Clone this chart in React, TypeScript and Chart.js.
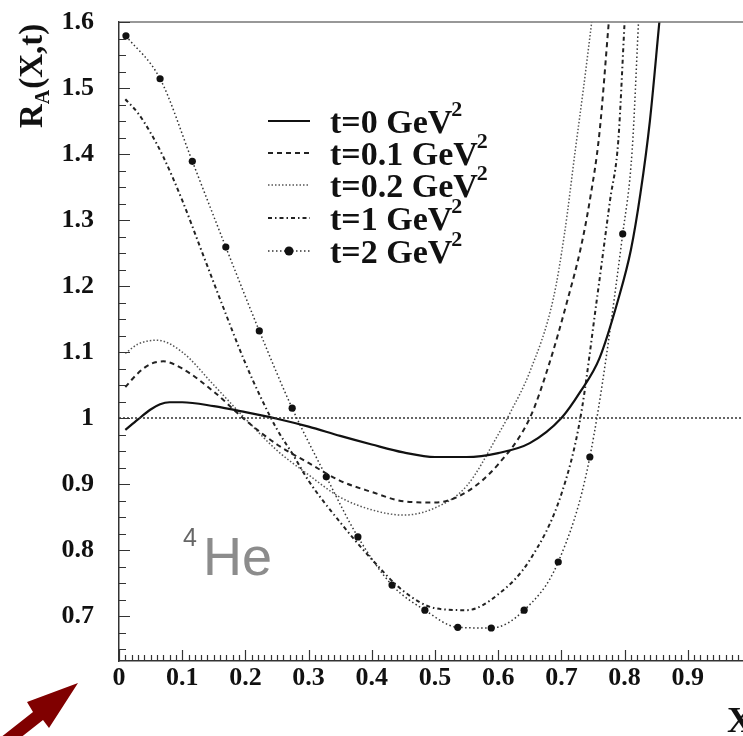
import React, { useEffect, useRef } from 'react';
import { Chart, registerables } from 'chart.js';

Chart.register(...registerables);

// ---- data ----
const X_T0 = [0.01, 0.03, 0.05, 0.065, 0.08, 0.1, 0.15, 0.2, 0.25, 0.3, 0.35, 0.4, 0.45, 0.5, 0.55, 0.6, 0.65, 0.7, 0.73, 0.76, 0.79, 0.81, 0.825, 0.84, 0.855];
const Y_T0 = [0.982, 0.998, 1.013, 1.021, 1.024, 1.024, 1.018, 1.009, 0.999, 0.987, 0.973, 0.960, 0.948, 0.941, 0.941, 0.947, 0.962, 1.0, 1.04, 1.09, 1.18, 1.255, 1.34, 1.45, 1.6];

const X_T01 = [0.01, 0.03, 0.05, 0.07, 0.1, 0.15, 0.2, 0.25, 0.3, 0.35, 0.4, 0.45, 0.5, 0.55, 0.6, 0.65, 0.68, 0.71, 0.73, 0.745, 0.76, 0.775];
const Y_T01 = [1.047, 1.068, 1.082, 1.086, 1.075, 1.04, 0.997, 0.96, 0.932, 0.905, 0.888, 0.874, 0.872, 0.888, 0.93, 1.0, 1.08, 1.18, 1.255, 1.33, 1.43, 1.6];

const X_T02 = [0.01, 0.03, 0.06, 0.1, 0.15, 0.2, 0.25, 0.3, 0.35, 0.4, 0.45, 0.5, 0.55, 0.6, 0.62, 0.65, 0.687, 0.705, 0.722, 0.735, 0.748];
const Y_T02 = [1.098, 1.112, 1.118, 1.1, 1.05, 0.999, 0.951, 0.914, 0.88, 0.861, 0.853, 0.864, 0.897, 0.975, 1.01, 1.07, 1.18, 1.28, 1.406, 1.5, 1.6];

const X_T1 = [0.01, 0.03, 0.05, 0.07, 0.1, 0.13, 0.16, 0.2, 0.225, 0.25, 0.275, 0.3, 0.35, 0.4, 0.45, 0.5, 0.55, 0.6, 0.65, 0.7, 0.73, 0.756, 0.777, 0.79, 0.8];
const Y_T1 = [1.483, 1.462, 1.432, 1.396, 1.33, 1.255, 1.18, 1.083, 1.03, 0.983, 0.945, 0.905, 0.842, 0.786, 0.738, 0.712, 0.709, 0.733, 0.785, 0.885, 1.0, 1.179, 1.33, 1.42, 1.6];

// t=2: the first 16 points carry the round markers
const X_T2 = [0.011, 0.065, 0.116, 0.169, 0.222, 0.274, 0.328, 0.378, 0.432, 0.484, 0.536, 0.589, 0.641, 0.695, 0.745, 0.797, 0.812, 0.822];
const Y_T2 = [1.579, 1.514, 1.389, 1.259, 1.132, 1.015, 0.911, 0.820, 0.747, 0.709, 0.683, 0.682, 0.709, 0.782, 0.941, 1.279, 1.406, 1.6];
const N_MARKERS_T2 = 16;

const X_UNITY = [0, 1];
const Y_UNITY = [1, 1];

const X_TICKS = [0, 0.1, 0.2, 0.3, 0.4, 0.5, 0.6, 0.7, 0.8, 0.9];
const Y_TICKS = [0.7, 0.8, 0.9, 1.0, 1.1, 1.2, 1.3, 1.4, 1.5, 1.6];
const LEGEND_LABELS = ['t=0 GeV', 't=0.1 GeV', 't=0.2 GeV', 't=1 GeV', 't=2 GeV'];

const SERIF = "'Liberation Serif', 'Times New Roman', serif";
const SANS = "'Liberation Sans', Arial, sans-serif";

const STYLES = [
  { color: '#111', width: 2.2, dash: [] as number[] },
  { color: '#222', width: 2, dash: [5, 4] },
  { color: '#555', width: 1.5, dash: [1.5, 2] },
  { color: '#222', width: 2, dash: [4, 3, 1.5, 3] },
  { color: '#333', width: 1.5, dash: [1.5, 2.5] },
];

function pts(xs: number[], ys: number[]) {
  return xs.map((x, i) => ({ x, y: ys[i] }));
}

function fmt(v: any) {
  return String(+Number(v).toFixed(2));
}

const decor = {
  id: 'decor',
  afterDraw(chart: any) {
    const { ctx, chartArea, scales } = chart;
    const { left, right, top, bottom } = chartArea;
    const x = scales.x;
    const y = scales.y;
    ctx.save();

    // frame top/right
    ctx.setLineDash([]);
    ctx.strokeStyle = '#777';
    ctx.lineWidth = 1.5;
    ctx.beginPath();
    ctx.moveTo(left, top);
    ctx.lineTo(right, top);
    ctx.lineTo(right, bottom);
    ctx.stroke();

    // inward ticks
    ctx.strokeStyle = '#333';
    ctx.lineWidth = 1.2;
    ctx.beginPath();
    for (let i = 0; i <= 100; i++) {
      const v = i / 100;
      const px = Math.round(x.getPixelForValue(v)) + 0.5;
      const len = i % 10 === 0 ? 11 : 6;
      ctx.moveTo(px, bottom);
      ctx.lineTo(px, bottom - len);
    }
    for (let k = 26; k <= 64; k++) {
      const v = k * 0.025;
      const py = Math.round(y.getPixelForValue(v)) + 0.5;
      const len = k % 4 === 0 ? 11 : 7;
      ctx.moveTo(left, py);
      ctx.lineTo(left + len, py);
    }
    ctx.stroke();

    // y-axis title R_A(X,t)
    ctx.save();
    ctx.translate(42, 128);
    ctx.rotate(-Math.PI / 2);
    ctx.fillStyle = '#111';
    ctx.textBaseline = 'alphabetic';
    ctx.textAlign = 'left';
    ctx.font = `bold 33px ${SERIF}`;
    ctx.fillText('R', 0, 0);
    const wR = ctx.measureText('R').width;
    ctx.font = `bold 20px ${SERIF}`;
    ctx.fillText('A', wR, 7);
    const wA = ctx.measureText('A').width;
    ctx.font = `bold 33px ${SERIF}`;
    ctx.fillText('(X,t)', wR + wA + 1, 0);
    ctx.restore();

    // x-axis title
    ctx.fillStyle = '#111';
    ctx.font = `bold 36px ${SERIF}`;
    ctx.textAlign = 'left';
    ctx.textBaseline = 'alphabetic';
    ctx.fillText('X', 727, 732);

    // legend
    const baselines = [133, 165, 197, 230, 263];
    LEGEND_LABELS.forEach((lab, i) => {
      const st = STYLES[i];
      const ly = baselines[i] - 12;
      ctx.strokeStyle = st.color;
      ctx.lineWidth = st.width;
      ctx.setLineDash(st.dash);
      ctx.beginPath();
      ctx.moveTo(268, ly);
      ctx.lineTo(310, ly);
      ctx.stroke();
      ctx.setLineDash([]);
      if (i === 4) {
        ctx.fillStyle = '#111';
        ctx.beginPath();
        ctx.arc(289, ly, 4.5, 0, Math.PI * 2);
        ctx.fill();
      }
      ctx.fillStyle = '#111';
      ctx.font = `bold 34px ${SERIF}`;
      ctx.fillText(lab, 330, baselines[i]);
      const w = ctx.measureText(lab).width;
      ctx.font = `bold 22px ${SERIF}`;
      ctx.fillText('2', 330 + w - 1, baselines[i] - 17);
    });

    // 4He
    ctx.fillStyle = '#666';
    ctx.font = `25px ${SANS}`;
    ctx.fillText('4', 183, 546);
    ctx.fillStyle = '#8c8c8c';
    ctx.font = `54px ${SANS}`;
    ctx.fillText('He', 203, 575);

    // arrow
    ctx.fillStyle = '#800000';
    ctx.beginPath();
    ctx.moveTo(78, 683);
    ctx.lineTo(27, 702);
    ctx.lineTo(33, 712);
    ctx.lineTo(-14, 749);
    ctx.lineTo(-4, 757);
    ctx.lineTo(43, 720);
    ctx.lineTo(49, 728);
    ctx.closePath();
    ctx.fill();

    ctx.restore();
  },
};

export default function App() {
  const ref = useRef<HTMLCanvasElement>(null);

  useEffect(() => {
    const mk = (xs: number[], ys: number[], i: number, extra: any = {}) => ({
      data: pts(xs, ys),
      borderColor: STYLES[i].color,
      borderWidth: STYLES[i].width,
      borderDash: STYLES[i].dash,
      pointRadius: 0,
      fill: false,
      cubicInterpolationMode: 'monotone',
      ...extra,
    });

    const chart = new Chart(ref.current as HTMLCanvasElement, {
      type: 'line',
      data: {
        datasets: [
          {
            data: pts(X_UNITY, Y_UNITY),
            borderColor: '#333',
            borderWidth: 1.6,
            borderDash: [2, 2],
            pointRadius: 0,
            fill: false,
          },
          mk(X_T0, Y_T0, 0),
          mk(X_T01, Y_T01, 1),
          mk(X_T02, Y_T02, 2),
          mk(X_T1, Y_T1, 3),
          mk(X_T2, Y_T2, 4, {
            pointRadius: X_T2.map((_, i) => (i < N_MARKERS_T2 ? 3.6 : 0)),
            pointBackgroundColor: '#111',
            pointBorderColor: '#111',
            pointBorderWidth: 0,
          }),
        ] as any,
      },
      options: {
        responsive: false,
        animation: false,
        devicePixelRatio: 1,
        layout: { padding: { left: 0, top: 22, right: 9, bottom: 0 } },
        plugins: { legend: { display: false }, tooltip: { enabled: false } },
        scales: {
          x: {
            type: 'linear',
            min: 0,
            max: 1,
            afterBuildTicks: (s: any) => {
              s.ticks = X_TICKS.map((v) => ({ value: v }));
            },
            afterFit: (s: any) => {
              s.height = 75;
              s.paddingLeft = 0;
              s.paddingRight = 0;
            },
            grid: { display: false, drawTicks: false },
            border: { display: true, color: '#333', width: 1.5 },
            ticks: {
              padding: 2,
              color: '#111',
              maxRotation: 0,
              autoSkip: false,
              font: { family: SERIF, size: 26, weight: 'bold' },
              callback: (v: any) => fmt(v),
            },
          },
          y: {
            type: 'linear',
            min: 0.632,
            max: 1.6,
            afterBuildTicks: (s: any) => {
              s.ticks = Y_TICKS.map((v) => ({ value: v }));
            },
            afterFit: (s: any) => {
              s.width = 119;
              s.paddingTop = 0;
              s.paddingBottom = 0;
            },
            grid: { display: false, drawTicks: false },
            border: { display: true, color: '#333', width: 1.5 },
            ticks: {
              padding: 25,
              color: '#111',
              autoSkip: false,
              font: { family: SERIF, size: 26, weight: 'bold' },
              callback: (v: any) => fmt(v),
            },
          },
        },
      } as any,
      plugins: [decor],
    });
    return () => chart.destroy();
  }, []);

  return (
    <div
      style={{
        position: 'fixed',
        left: 0,
        top: 0,
        width: 743,
        height: 736,
        overflow: 'hidden',
        background: '#fff',
      }}
    >
      <canvas ref={ref} width={760} height={736} style={{ display: 'block' }} />
    </div>
  );
}
